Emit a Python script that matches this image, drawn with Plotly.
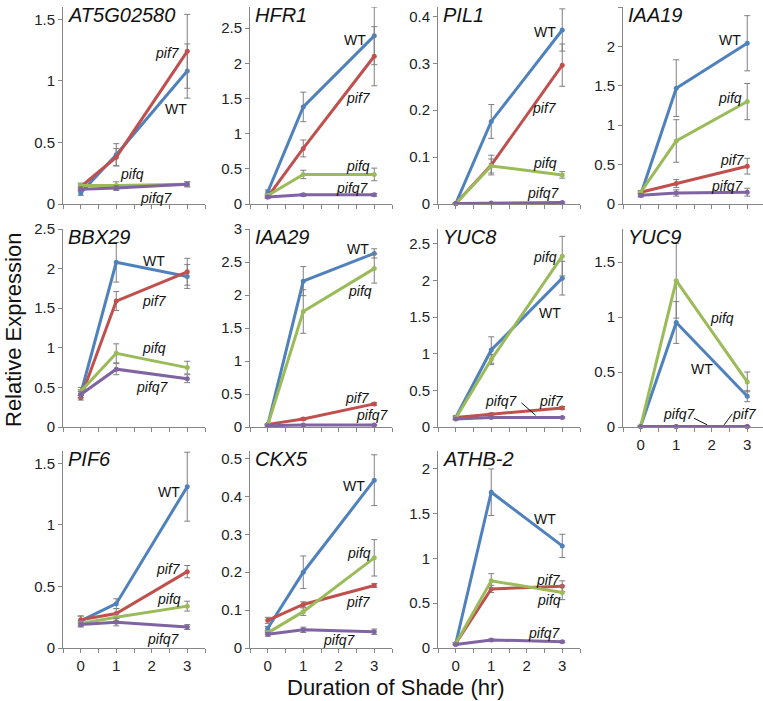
"""Shade-induced gene expression in WT and pif mutants, 11 small panels."""

import plotly.graph_objects as go

W, H = 763, 701
HOURS = [0, 1, 3]
GENOTYPES = ['WT', 'pif7', 'pifq', 'pifq7']
COLORS = ['#4F81BD', '#C0504D', '#9BBB59', '#8064A2']
ERR_COLOR = '#7F7F7F'
AXIS_COLOR = '#868686'
FONT = 'Arial, Liberation Sans, sans-serif'

GENES = ['AT5G02580', 'HFR1', 'PIL1', 'IAA19',
         'BBX29', 'IAA29', 'YUC8', 'YUC9',
         'PIF6', 'CKX5', 'ATHB-2']

# means and errors, rows in GENOTYPES order, columns in HOURS order
AT5G02580 = [[0.09, 0.40, 1.08], [0.14, 0.38, 1.24], [0.15, 0.15, 0.16], [0.12, 0.13, 0.16]]
AT5G02580_ERR = [[0.02, 0.09, 0.22], [0.02, 0.07, 0.30], [0.02, 0.03, 0.02], [0.02, 0.02, 0.02]]
HFR1 = [[0.17, 1.38, 2.39], [0.10, 0.79, 2.10], [0.12, 0.42, 0.42], [0.10, 0.13, 0.13]]
HFR1_ERR = [[0.03, 0.21, 0.41], [0.02, 0.12, 0.42], [0.02, 0.06, 0.09], [0.01, 0.02, 0.02]]
PIL1 = [[0.001, 0.176, 0.371], [0.001, 0.083, 0.296], [0.001, 0.081, 0.062], [0.001, 0.002, 0.003]]
PIL1_ERR = [[0.001, 0.036, 0.045], [0.001, 0.021, 0.045], [0.001, 0.015, 0.007], [0.0005, 0.001, 0.001]]
IAA19 = [[0.12, 1.47, 2.04], [0.15, 0.26, 0.48], [0.15, 0.80, 1.30], [0.11, 0.14, 0.15]]
IAA19_ERR = [[0.03, 0.36, 0.35], [0.02, 0.05, 0.10], [0.02, 0.27, 0.23], [0.02, 0.04, 0.05]]
BBX29 = [[0.42, 2.08, 1.90], [0.37, 1.59, 1.96], [0.45, 0.93, 0.75], [0.41, 0.73, 0.61]]
BBX29_ERR = [[0.05, 0.25, 0.15], [0.03, 0.12, 0.17], [0.05, 0.12, 0.08], [0.04, 0.07, 0.05]]
IAA29 = [[0.03, 2.21, 2.63], [0.04, 0.12, 0.35], [0.03, 1.75, 2.40], [0.02, 0.03, 0.03]]
IAA29_ERR = [[0.01, 0.22, 0.07], [0.01, 0.02, 0.02], [0.01, 0.33, 0.22], [0.01, 0.01, 0.01]]
YUC8 = [[0.13, 1.05, 2.03], [0.13, 0.17, 0.26], [0.12, 0.92, 2.33], [0.11, 0.13, 0.13]]
YUC8_ERR = [[0.02, 0.18, 0.23], [0.02, 0.02, 0.02], [0.02, 0.07, 0.27], [0.01, 0.01, 0.01]]
YUC9 = [[0.01, 0.95, 0.28], [0.005, 0.005, 0.005], [0.01, 1.33, 0.41], [0.005, 0.005, 0.005]]
YUC9_ERR = [[0.003, 0.19, 0.05], [0.0, 0.0, 0.0], [0.003, 0.34, 0.09], [0.0, 0.0, 0.0]]
PIF6 = [[0.22, 0.36, 1.31], [0.23, 0.28, 0.62], [0.20, 0.25, 0.34], [0.19, 0.21, 0.17]]
PIF6_ERR = [[0.04, 0.04, 0.28], [0.03, 0.04, 0.05], [0.02, 0.03, 0.04], [0.02, 0.03, 0.02]]
CKX5 = [[0.052, 0.20, 0.443], [0.073, 0.115, 0.165], [0.040, 0.096, 0.238], [0.036, 0.048, 0.043]]
CKX5_ERR = [[0.005, 0.043, 0.067], [0.008, 0.007, 0.005], [0.004, 0.01, 0.048], [0.005, 0.007, 0.007]]
ATHB2 = [[0.05, 1.74, 1.14], [0.05, 0.66, 0.69], [0.05, 0.75, 0.62], [0.04, 0.09, 0.07]]
ATHB2_ERR = [[0.01, 0.26, 0.13], [0.01, 0.04, 0.06], [0.01, 0.08, 0.08], [0.01, 0.01, 0.01]]

MEANS = [AT5G02580, HFR1, PIL1, IAA19, BBX29, IAA29, YUC8, YUC9, PIF6, CKX5, ATHB2]
ERRS = [AT5G02580_ERR, HFR1_ERR, PIL1_ERR, IAA19_ERR, BBX29_ERR, IAA29_ERR,
        YUC8_ERR, YUC9_ERR, PIF6_ERR, CKX5_ERR, ATHB2_ERR]

Y_MAX = [1.6, 2.8, 0.42, 2.5, 2.5, 3.0, 2.7, 1.8, 1.6, 0.52, 2.2]
Y_STEP = [0.5, 0.5, 0.1, 0.5, 0.5, 0.5, 0.5, 0.5, 0.5, 0.1, 0.5]

# where the genotype names sit in each panel (data coords)
LABELS = [
    [('pif7', 2.44, 1.23), ('WT', 2.69, 0.77), ('pifq', 1.43, 0.24), ('pifq7', 2.13, 0.05)],
    [('WT', 2.46, 2.33), ('pif7', 2.55, 1.50), ('pifq', 2.55, 0.54), ('pifq7', 2.38, 0.23)],
    [('WT', 2.5, 0.366), ('pif7', 2.5, 0.204), ('pifq', 2.5, 0.087), ('pifq7', 2.48, 0.023)],
    [('WT', 2.52, 2.08), ('pifq', 2.52, 1.35), ('pif7', 2.58, 0.56), ('pifq7', 2.43, 0.23)],
    [('WT', 2.07, 2.09), ('pif7', 2.07, 1.59), ('pifq', 2.07, 1.0), ('pifq7', 2.02, 0.5)],
    [('WT', 2.55, 2.70), ('pifq', 2.61, 2.06), ('pif7', 2.52, 0.44), ('pifq7', 2.95, 0.18)],
    [('pifq', 2.5, 2.32), ('WT', 2.65, 1.55), ('pifq7', 1.3, 0.36), ('pif7', 2.7, 0.36)],
    [('pifq', 2.29, 0.99), ('WT', 1.73, 0.53), ('pifq7', 1.1, 0.12), ('pif7', 2.92, 0.12)],
    [('WT', 2.48, 1.27), ('pif7', 2.48, 0.64), ('pifq', 2.48, 0.40), ('pifq7', 2.34, 0.07)],
    [('WT', 2.44, 0.428), ('pifq', 2.56, 0.252), ('pif7', 2.56, 0.121), ('pifq7', 2.03, 0.021)],
    [('WT', 2.51, 1.44), ('pif7', 2.62, 0.76), ('pifq', 2.62, 0.54), ('pifq7', 2.51, 0.17)],
]
# leader lines (panel index, x0, y0, x1, y1)
LEADERS = [(6, 1.85, 0.33, 2.25, 0.16), (7, 1.5, 0.08, 1.87, 0.02), (7, 2.58, 0.12, 2.35, 0.02)]

COL_PX = [(63, 205), (250, 392), (438, 580), (623, 763)]
ROW_PX = [(7, 204), (229, 427), (451, 648)]

fig = go.Figure()
annotations = []
shapes = []

for i, gene in enumerate(GENES):
    row, col = divmod(i, 4)
    n = '' if i == 0 else str(i + 1)
    xa, ya = 'x' + n, 'y' + n
    x0px, x1px = COL_PX[col]
    top, bot = ROW_PX[row]
    xmax = -0.5 + 4 * (x1px - x0px) / 142.0

    for g, name in enumerate(GENOTYPES):
        fig.add_trace(go.Scatter(
            x=HOURS, y=MEANS[i][g], xaxis=xa, yaxis=ya, name=name,
            mode='lines+markers', cliponaxis=False,
            line=dict(color=COLORS[g], width=3),
            marker=dict(color=COLORS[g], size=5),
            error_y=dict(type='data', array=ERRS[i][g], color=ERR_COLOR, thickness=1, width=3),
        ))

    show_x = row == 2 or i == 7
    ticks_x = [-0.5 + 0.5 * k for k in range(9)]
    fig.layout['xaxis' + n] = dict(
        domain=[x0px / W, x1px / W], range=[-0.5, xmax], anchor=ya, automargin=False,
        tickvals=ticks_x,
        ticktext=[(str(int(t)) if (show_x and t >= 0 and t == int(t)) else '') for t in ticks_x],
        ticks='outside', ticklen=4, tickcolor=AXIS_COLOR,
        showline=True, linecolor=AXIS_COLOR, linewidth=1,
        showgrid=False, zeroline=False, tickfont=dict(size=15, color='#222'),
    )
    fig.layout['yaxis' + n] = dict(
        domain=[1 - bot / H, 1 - top / H], range=[0, Y_MAX[i]], anchor=xa, automargin=False,
        tick0=0, dtick=Y_STEP[i],
        ticks='outside', ticklen=4, tickcolor=AXIS_COLOR,
        showline=True, linecolor=AXIS_COLOR, linewidth=1,
        showgrid=False, zeroline=False, tickfont=dict(size=15, color='#222'),
    )

    # gene name, italic, top-left inside the panel
    annotations.append(dict(
        text='<i>%s</i>' % gene, xref='paper', yref='paper',
        x=(x0px + 3) / W, y=1 - (top + 8) / H, xanchor='left', yanchor='middle',
        showarrow=False, font=dict(size=20, color='#111'),
    ))
    for label, lx, ly in LABELS[i]:
        txt = label if label == 'WT' else '<i>%s</i>' % label
        annotations.append(dict(
            text=txt, xref=xa, yref=ya, x=lx, y=ly, showarrow=False,
            xanchor='center', yanchor='middle',
            font=dict(size=14, color='#111'),
        ))

for i, lx0, ly0, lx1, ly1 in LEADERS:
    n = '' if i == 0 else str(i + 1)
    shapes.append(dict(type='line', xref='x' + n, yref='y' + n, x0=lx0, y0=ly0, x1=lx1, y1=ly1,
                       line=dict(color='#111', width=1)))

annotations.append(dict(
    text='Relative Expression', xref='paper', yref='paper', x=13 / W, y=1 - 330 / H,
    xanchor='center', yanchor='middle',
    textangle=-90, showarrow=False, font=dict(size=22, color='#111'),
))
annotations.append(dict(
    text='Duration of Shade (hr)', xref='paper', yref='paper', x=396 / W, y=1 - 687 / H,
    xanchor='center', yanchor='middle',
    showarrow=False, font=dict(size=22, color='#111'),
))

fig.update_layout(
    width=W, height=H,
    margin=dict(l=0, r=0, t=0, b=0),
    showlegend=False,
    plot_bgcolor='white', paper_bgcolor='white',
    font=dict(family=FONT, size=15, color='#222'),
    annotations=annotations,
    shapes=shapes,
)

# the page body has an 8px margin by default; drop it so the figure fills the window
fig.write_html('out.html', config={'displayModeBar': False},
               post_script="document.body.style.margin = '0';")
